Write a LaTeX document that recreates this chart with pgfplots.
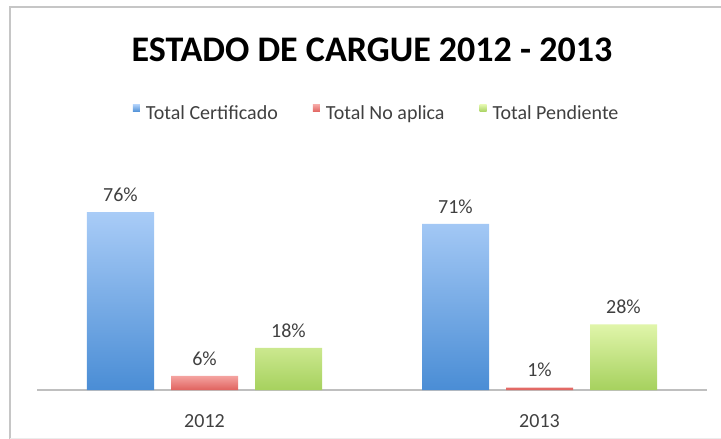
\documentclass[border=0pt]{standalone}
\usepackage{pgfplots}
\pgfplotsset{compat=1.18}
\usepackage{fontspec}
\setmainfont{Carlito}

\definecolor{bluetop}{HTML}{A9CCF7}
\definecolor{bluebot}{HTML}{4A8DD5}
\definecolor{redtop}{HTML}{F4A3A0}
\definecolor{redbot}{HTML}{E0625E}
\definecolor{greentop}{HTML}{E0F5AA}
\definecolor{greenbot}{HTML}{A6D15E}
\definecolor{axisgray}{HTML}{BFBFBF}
\definecolor{framegray}{HTML}{C6C6C6}
\definecolor{labelgray}{HTML}{404040}

\begin{document}
\begin{tikzpicture}
\useasboundingbox (0,0) rectangle (721pt,-439pt);
% chart frame (only left, top and a faint bottom edge are visible)
\draw[framegray, line width=2pt] (10pt,-439pt) -- (10pt,-7pt) -- (721pt,-7pt);
\draw[gray!15, line width=1pt] (10pt,-438pt) -- (721pt,-438pt);
\node[font=\fontsize{36}{43}\selectfont\bfseries] at (372pt,-50pt) {ESTADO DE CARGUE 2012 - 2013};

\begin{axis}[
    at={(37pt,-390pt)}, anchor=south west,
    width=670pt, height=187.2pt, scale only axis,
    xmin=-0.5, xmax=1.5, ymin=0, ymax=80,
    ybar=17pt, bar width=67pt,
    axis x line=bottom, axis y line=none,
    x axis line style={-, draw=axisgray, line width=2pt},
    xtick={0,1}, xticklabels={2012,2013},
    major tick length=0pt, xtick style={draw=none},
    xticklabel style={font=\fontsize{20}{24}\selectfont, text=labelgray, yshift=-21pt},
    nodes near coords={\pgfmathprintnumber{\pgfplotspointmeta}\%},
    nodes near coords style={font=\fontsize{20}{24}\selectfont, text=labelgray, yshift=7pt},
    /pgf/number format/assume math mode=true,
    clip=false,
    legend columns=3,
    legend style={at={(0.507,1.48)}, anchor=center, draw=none,
        font=\fontsize{20}{24}\selectfont, text=labelgray,
        /tikz/every even column/.append style={column sep=33pt}},
    legend image code/.code={\draw[#1, draw=none] (0pt,1pt) rectangle (7pt,8pt);
        \path (11pt,0pt);},
]

\addplot[draw=none, top color=bluetop, bottom color=bluebot]
    coordinates {(0,76) (1,71)};
\addlegendentry{Total Certificado}

\addplot[draw=none, top color=redtop, bottom color=redbot]
    coordinates {(0,6) (1,1)};
\addlegendentry{Total No aplica}

\addplot[draw=none, top color=greentop, bottom color=greenbot]
    coordinates {(0,18) (1,28)};
\addlegendentry{Total Pendiente}
\end{axis}
\end{tikzpicture}
\end{document}
